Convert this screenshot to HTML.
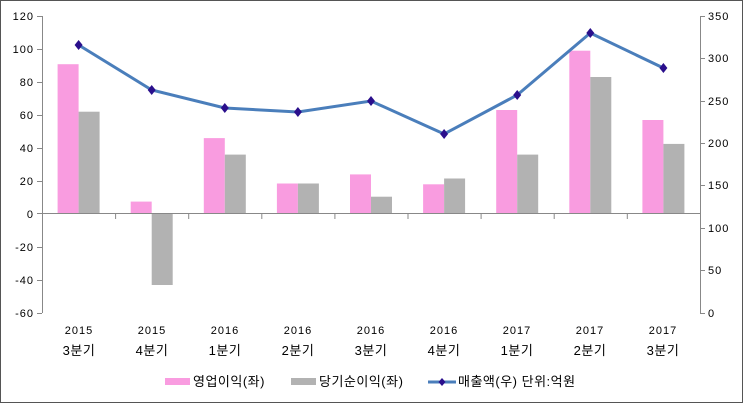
<!DOCTYPE html>
<html><head><meta charset="utf-8"><style>
body{margin:0;background:#fff}
svg{display:block}
text{font-family:"Liberation Sans","Noto Sans CJK KR",sans-serif;font-size:11px;fill:#000;letter-spacing:1px}
.k{font-size:13px;letter-spacing:0.5px}
</style></head><body>
<svg width="743" height="403" viewBox="0 0 743 403">
<rect x="0.5" y="0.5" width="742" height="402" fill="#fff" stroke="#555"/>
<g fill="#F99CE0">
<rect x="57.6" y="64.2" width="21" height="149.8"/>
<rect x="130.7" y="201.6" width="21" height="12.4"/>
<rect x="203.8" y="138.1" width="21" height="75.9"/>
<rect x="276.9" y="183.5" width="21" height="30.5"/>
<rect x="350" y="174.4" width="21" height="39.6"/>
<rect x="423.1" y="184.3" width="21" height="29.7"/>
<rect x="496.2" y="110" width="21" height="104"/>
<rect x="569.3" y="50.7" width="21" height="163.3"/>
<rect x="642.4" y="120" width="21" height="94"/>
</g>
<g fill="#B2B2B2">
<rect x="78.6" y="111.7" width="21" height="102.3"/>
<rect x="151.7" y="214" width="21" height="71"/>
<rect x="224.8" y="154.6" width="21" height="59.4"/>
<rect x="297.9" y="183.5" width="21" height="30.5"/>
<rect x="371" y="196.7" width="21" height="17.3"/>
<rect x="444.1" y="178.5" width="21" height="35.5"/>
<rect x="517.2" y="154.6" width="21" height="59.4"/>
<rect x="590.3" y="77" width="21" height="137"/>
<rect x="663.4" y="143.9" width="21" height="70.1"/>
</g>
<g stroke="#888" stroke-width="1" fill="none">
<path d="M42.5 16V313M700.5 16V313M42 213.5H700"/>
<path d="M37 16.5h5M37 49.5h5M37 82.5h5M37 115.5h5M37 148.5h5M37 181.5h5M37 213.5h5M37 247.5h5M37 280.5h5M37 313.5h5"/>
<path d="M700 16.5h5M700 58.5h5M700 101.5h5M700 143.5h5M700 185.5h5M700 228.5h5M700 270.5h5M700 313.5h5"/>
<path d="M115.6 214v5M188.7 214v5M261.8 214v5M334.9 214v5M408 214v5M481.1 214v5M554.2 214v5M627.3 214v5"/>
</g>
<polyline points="78.6,45 151.7,90 224.8,108 297.9,112 371,101 444.1,134 517.2,95 590.3,33 663.4,68" fill="none" stroke="#4A7EBB" stroke-width="3"/>
<g fill="#2A0F8C">
<path d="M78.6 40l4 5-4 5-4-5z"/><path d="M151.7 85l4 5-4 5-4-5z"/><path d="M224.8 103l4 5-4 5-4-5z"/><path d="M297.9 107l4 5-4 5-4-5z"/><path d="M371 96l4 5-4 5-4-5z"/><path d="M444.1 129l4 5-4 5-4-5z"/><path d="M517.2 90l4 5-4 5-4-5z"/><path d="M590.3 28l4 5-4 5-4-5z"/><path d="M663.4 63l4 5-4 5-4-5z"/>
</g>
<g text-anchor="end">
<text x="34" y="20">120</text><text x="34" y="53">100</text><text x="34" y="86">80</text><text x="34" y="119">60</text><text x="34" y="152">40</text><text x="34" y="185">20</text><text x="34" y="218">0</text><text x="34" y="251">-20</text><text x="34" y="284">-40</text><text x="34" y="317">-60</text>
</g>
<g>
<text x="708" y="20">350</text><text x="708" y="62">300</text><text x="708" y="105">250</text><text x="708" y="147">200</text><text x="708" y="189">150</text><text x="708" y="232">100</text><text x="708" y="274">50</text><text x="708" y="317">0</text>
</g>
<g text-anchor="middle">
<text x="79" y="334">2015</text><text class="k" x="79" y="355">3분기</text>
<text x="152" y="334">2015</text><text class="k" x="152" y="355">4분기</text>
<text x="225" y="334">2016</text><text class="k" x="225" y="355">1분기</text>
<text x="298" y="334">2016</text><text class="k" x="298" y="355">2분기</text>
<text x="371" y="334">2016</text><text class="k" x="371" y="355">3분기</text>
<text x="444" y="334">2016</text><text class="k" x="444" y="355">4분기</text>
<text x="517" y="334">2017</text><text class="k" x="517" y="355">1분기</text>
<text x="590" y="334">2017</text><text class="k" x="590" y="355">2분기</text>
<text x="663" y="334">2017</text><text class="k" x="663" y="355">3분기</text>
</g>
<rect x="165" y="378" width="25" height="7" fill="#F99CE0"/>
<text class="k" x="193" y="386">영업이익(좌)</text>
<rect x="291" y="378" width="25" height="7" fill="#B2B2B2"/>
<text class="k" x="319" y="386">당기순이익(좌)</text>
<line x1="428" y1="382" x2="456" y2="382" stroke="#4A7EBB" stroke-width="3"/>
<path d="M442 378l3.5 4-3.5 4-3.5-4z" fill="#2A0F8C"/>
<text class="k" x="458" y="386">매출액(우)  단위:억원</text>
</svg>
</body></html>
